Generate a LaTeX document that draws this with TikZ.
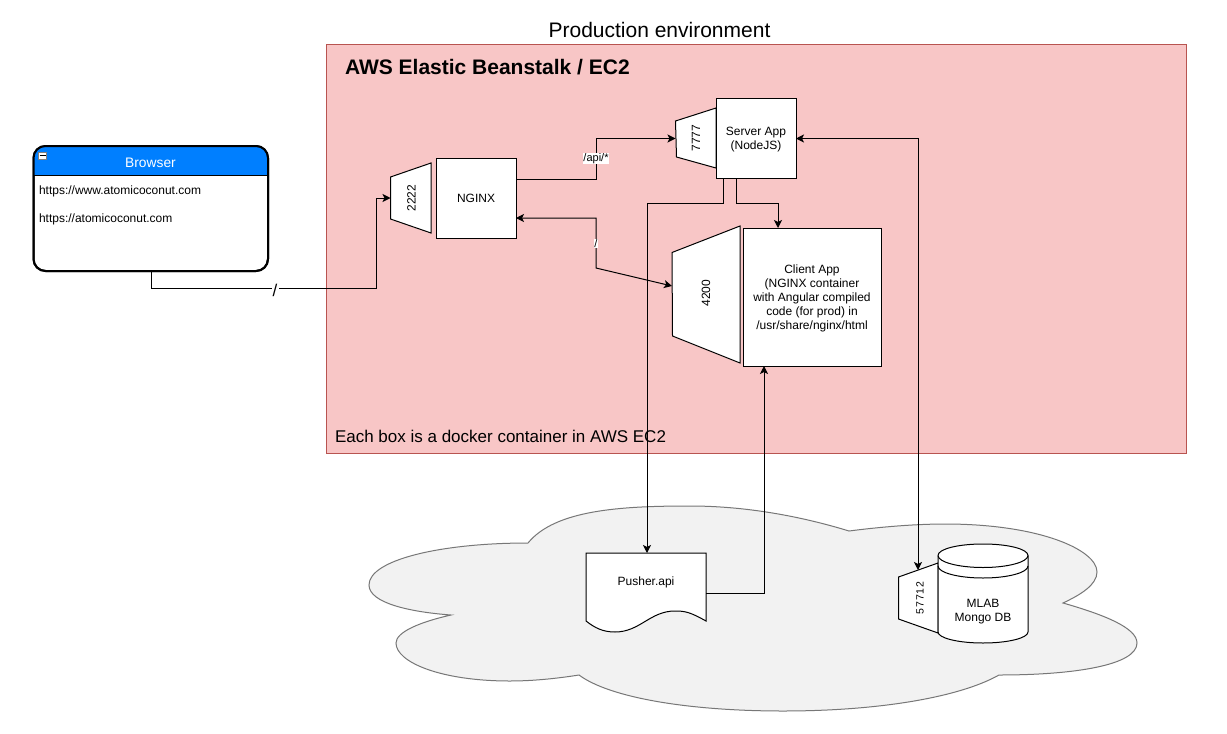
\documentclass[tikz,border=0pt]{standalone}
\usepackage{fontspec}
\setmainfont{Liberation Sans}
\usetikzlibrary{arrows.meta}
\definecolor{redfill}{HTML}{F8C6C6}
\definecolor{redline}{HTML}{B85450}
\definecolor{cloudfill}{HTML}{F2F2F2}
\definecolor{cloudline}{HTML}{777777}
\definecolor{headblue}{HTML}{007FFF}
\tikzset{
  every node/.style={inner sep=0pt,outer sep=0pt},
  lbl/.style={font=\fontsize{12}{14}\selectfont,align=center},
  frame/.style={draw=black,fill=white,line width=1pt},
  port/.style={draw=black,fill=white,line width=1pt,line join=miter},
  porttext/.style={lbl,rotate=90},
  conn/.style={draw=black,line width=1pt,line join=miter},
  tip/.style={-{Stealth[length=8pt,width=8pt,inset=2pt]}},
  tiptwo/.style={{Stealth[length=8pt,width=8pt,inset=2pt]}-{Stealth[length=8pt,width=8pt,inset=2pt]}},
  wlabel/.style={fill=white,font=\fontsize{11}{13}\selectfont},
}
\begin{document}
\begin{tikzpicture}[x=1pt,y=-1pt]
\useasboundingbox (0,0) rectangle (1227,734);
\fill[white] (0,0) rectangle (1227,734);

% environment
\node[font=\fontsize{21}{24}\selectfont] (title) at (659.5,30) {Production environment};
\draw[fill=redfill,draw=redline,line width=1pt] (326.5,44.5) rectangle (1186.5,453.5);
\node[anchor=west,font=\bfseries\fontsize{21}{24}\selectfont] (aws) at (345,67.5) {AWS Elastic Beanstalk / EC2};
\node[anchor=west,font=\fontsize{17}{20}\selectfont] (each) at (335,436) {Each box is a docker container in AWS EC2};

% cloud
\draw[fill=cloudfill,draw=cloudline,line width=1pt]
  (528,543) .. controls (555,510) and (620,506) .. (690,506)
  .. controls (745,506) and (800,516) .. (849,531)
  .. controls (880,527) and (915,524) .. (945,524)
  .. controls (1040,524) and (1097,550) .. (1097,572)
  .. controls (1097,585) and (1080,595) .. (1063,603)
  .. controls (1105,615) and (1137,628) .. (1137,643)
  .. controls (1137,665) and (1075,675) .. (999,675)
  .. controls (960,697) and (880,711) .. (783,711)
  .. controls (690,711) and (610,698) .. (579,675)
  .. controls (560,678) and (535,681) .. (510,681)
  .. controls (440,681) and (396,662) .. (396,643)
  .. controls (396,632) and (420,622) .. (451,615)
  .. controls (410,612) and (369,603) .. (369,585)
  .. controls (369,560) and (440,543) .. (528,543) -- cycle;

% browser
\draw[fill=white,draw=black,line width=2pt,rounded corners=12pt] (33.5,146) rectangle (268,271);
\begin{scope}
  \clip[rounded corners=12pt] (33.5,146) rectangle (268,271);
  \fill[headblue] (33.5,146) rectangle (268,175.5);
\end{scope}
\draw[draw=black,line width=2pt,rounded corners=12pt] (33.5,146) rectangle (268,271);
\draw[black,line width=1.5pt] (33.5,175.5) -- (268,175.5);
\node[draw=gray,fill=white,minimum width=8pt,minimum height=7pt,line width=.7pt] (collapse) at (42.5,155.5) {};
\draw[black,line width=1pt] (39.5,155.5) -- (45.5,155.5);
\node[text=white,font=\fontsize{13.8}{16}\selectfont] (brtitle) at (150.5,163) {Browser};
\node[anchor=west,lbl] (url1) at (39,191) {https://www.atomicoconut.com};
\node[anchor=west,lbl] (url2) at (39,219) {https://atomicoconut.com};
\coordinate (brout) at (151,271);

% port shapes
\draw[port] (390.5,177) -- (431,163) -- (431,233) -- (390.5,219) -- cycle;
\node[porttext] (p2222) at (411.5,198) {2222};
\coordinate (p2222w) at (390.5,198);

\draw[port] (675.5,121) -- (716,108) -- (716,168) -- (676.5,157) -- cycle;
\node[porttext] (p7777) at (696,138) {7777};
\coordinate (p7777w) at (675.5,138.5);

\draw[port] (672,252.5) -- (740,226) -- (740,363) -- (672.5,336) -- cycle;
\node[porttext] (p4200) at (706,293) {4200};
\coordinate (p4200w) at (672,286);

% boxes
\node[frame,minimum width=80pt,minimum height=80pt] (nginx) at (476,198) {};
\node[lbl] (nginxt) at (476,198.5) {NGINX};
\node[frame,minimum width=80pt,minimum height=80pt] (server) at (756,138.5) {};
\node[lbl] (servert) at (756,140) {Server App\\(NodeJS)};
\node[frame,minimum width=138pt,minimum height=138pt] (client) at (812,297) {};
\node[lbl] (clientt) at (812,298.5) {Client App\\(NGINX container\\with Angular compiled\\code (for prod) in\\/usr/share/nginx/html};

\coordinate (ngout) at (516,179);
\coordinate (ngin) at (516,218);
\coordinate (srvA) at (723.5,178.5);
\coordinate (srvB) at (736.5,178.5);
\coordinate (cltin) at (764,366);
\coordinate (cltin2) at (778,228);

% pusher
\draw[port] (586,553) -- (706,553) -- (706,621)
  .. controls (690,612) and (685,611) .. (675,611)
  .. controls (650,611) and (640,632) .. (615,632)
  .. controls (603,632) and (595,628) .. (586,621) -- cycle;
\node[lbl] (pusher) at (646,582.5) {Pusher.api};
\coordinate (pushtop) at (647,553);
\coordinate (pushout) at (706,593);

% database
\draw[port] (898.5,577) -- (938,563) -- (938,633) -- (898.5,619) -- cycle;
\node[rotate=90,font=\fontsize{10.5}{13}\selectfont] (p57712) at (920,598) {5\kern.8pt 7\kern.8pt 7\kern.8pt 1\kern.8pt 2};
\draw[port] (938,555.5)
  .. controls (938,549) and (958,544) .. (983,544)
  .. controls (1008,544) and (1028,549) .. (1028,555.5)
  -- (1028,632)
  .. controls (1028,638) and (1008,643) .. (983,643)
  .. controls (958,643) and (938,638) .. (938,632) -- cycle;
\draw[black,line width=1pt] (938,555.5) .. controls (938,562) and (958,567.5) .. (983,567.5) .. controls (1008,567.5) and (1028,562) .. (1028,555.5);
\draw[black,line width=1pt] (938,566) .. controls (938,572.5) and (958,578) .. (983,578) .. controls (1008,578) and (1028,572.5) .. (1028,566);
\node[lbl] (mlab) at (983,612) {MLAB\\Mongo DB};
\coordinate (dbin) at (918,570);
\coordinate (srvE) at (796,138.5);

% connectors
\draw[conn,tip] (brout) -- (151,288.5) -- (376,288.5) -- (376,198) -- (p2222w);
\node[fill=white,minimum width=7pt,font=\fontsize{17}{20}\selectfont] (slash) at (275,290) {/};
\draw[conn,tip] (ngout) -- (596,179) -- (596,138.5) -- (p7777w);
\node[wlabel] (api) at (596,158.5) {/api/*};
\draw[conn,tiptwo] (ngin) -- (596,218) -- (596,268) -- (p4200w);
\node[wlabel] (root) at (596,243.5) {/};
\draw[conn,tip] (srvA) -- (723.5,203) -- (647,203) -- (pushtop);
\draw[conn,tip] (srvB) -- (736.5,203) -- (778,203) -- (cltin2);
\draw[conn,tip] (pushout) -- (764,593) -- (cltin);
\draw[conn,tiptwo] (srvE) -- (918,138.5) -- (dbin);
\end{tikzpicture}
\end{document}
